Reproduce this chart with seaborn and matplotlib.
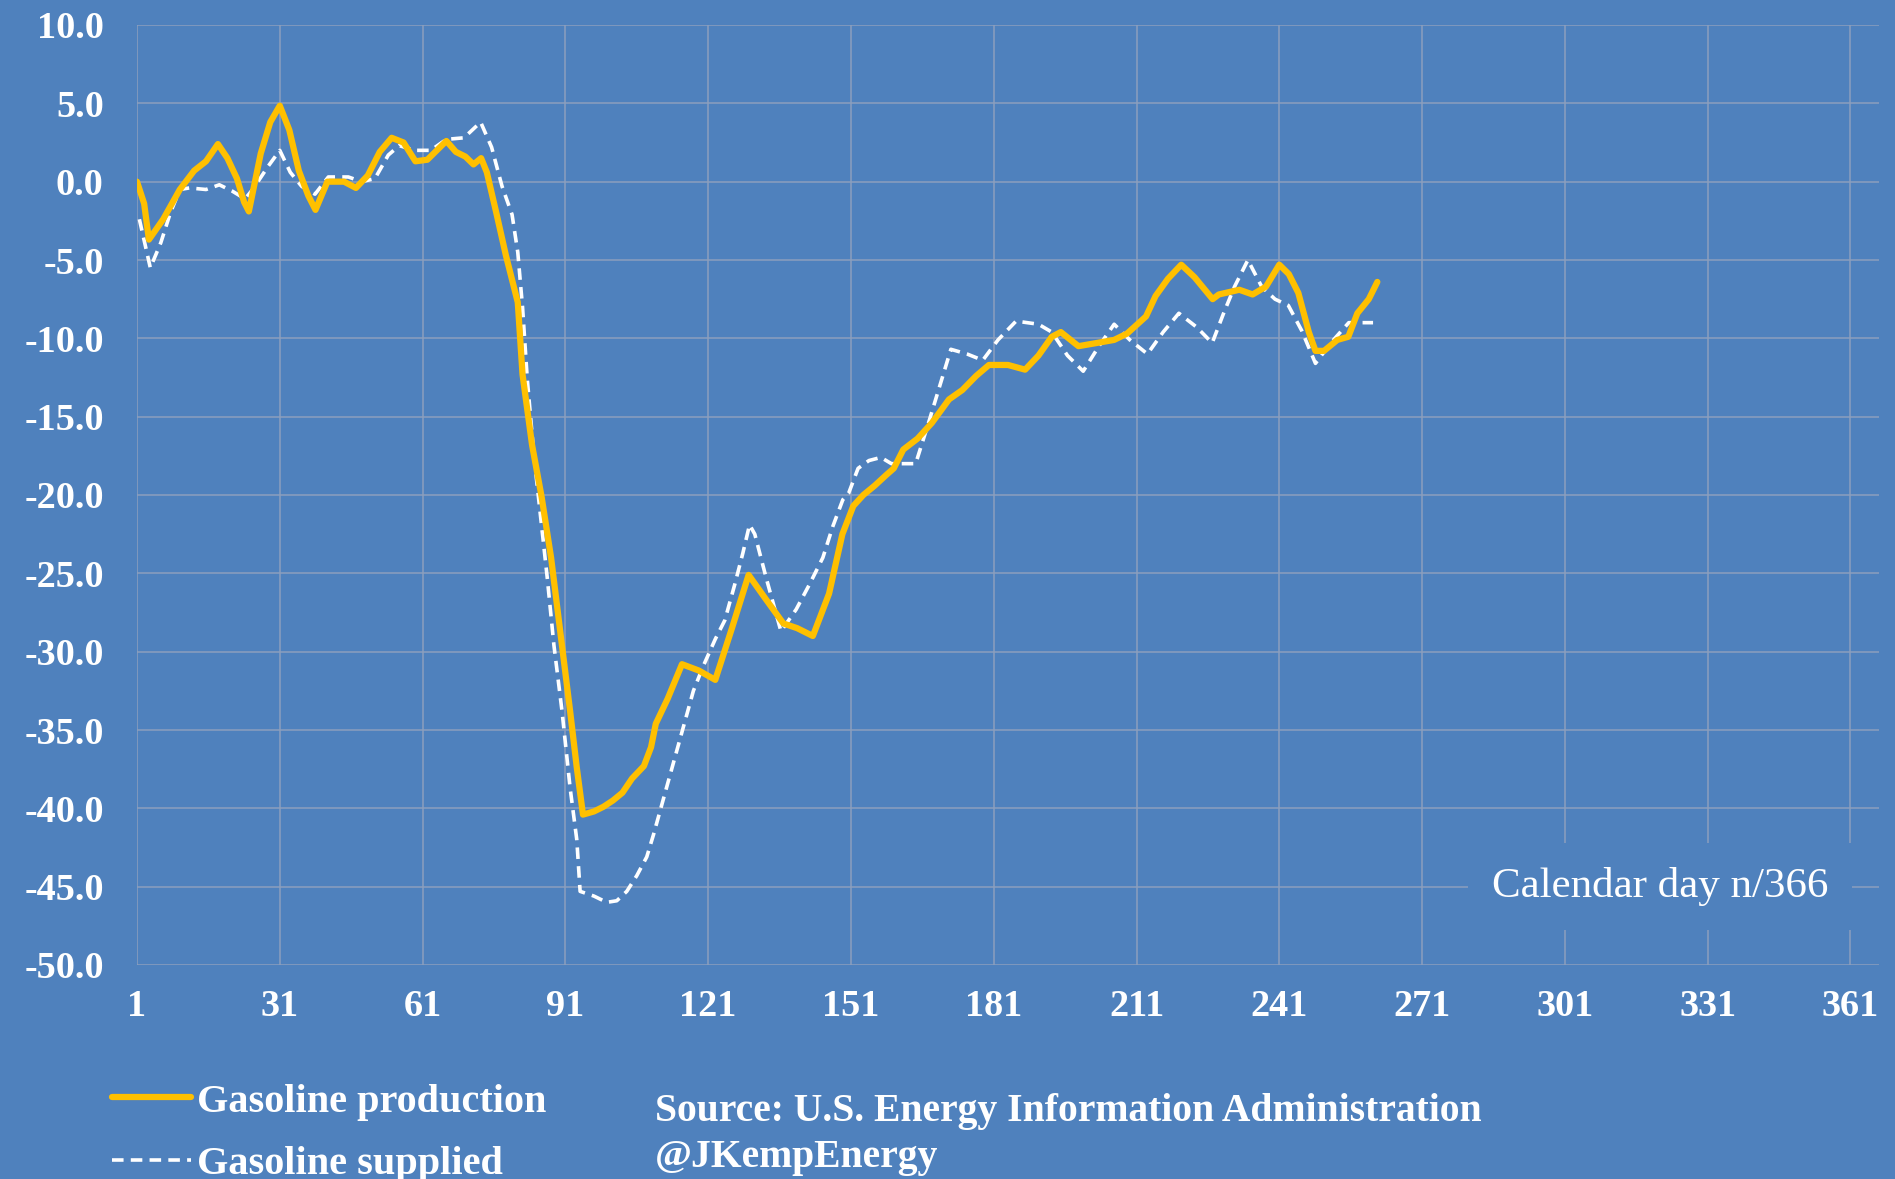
import numpy as np
import pandas as pd
import matplotlib
matplotlib.use("Agg")
import matplotlib.pyplot as plt
import seaborn as sns

# ---- data ----
prod_days = [1, 2.5, 3.5, 6.5, 10, 13, 15.5, 18, 20, 22, 23.5, 24.5, 27, 29, 31, 33, 35, 37,
             38.5, 41, 44.5, 47, 49.5, 52, 54.5, 57, 59.5, 62, 65, 66, 68, 70, 71.7, 73.3,
             74.5, 76.5, 78.5, 81, 82, 84, 86, 88, 90, 92, 93.4, 94.7, 97, 99, 101, 103,
             105, 107.5, 109, 110, 112.5, 115.5, 119, 122.5, 126, 129.5, 133, 136.8, 139.7,
             143, 146.4, 149.2, 151.5, 153.6, 156, 158.5, 160, 162, 165, 168, 171.6, 174.4,
             177.3, 180, 184, 187.6, 190.4, 193.2, 195.1, 198.8, 202.6, 206.3, 209, 213,
             215, 217.6, 220.4, 223.2, 227, 228.3, 232.6, 235.4, 238.2, 241, 243, 245,
             247.2, 248.6, 250.4, 253.2, 255.5, 257.4, 259.8, 261.6]
prod_vals = [0.0, -1.4, -3.7, -2.4, -0.5, 0.7, 1.3, 2.4, 1.5, 0.2, -1.3, -1.9, 1.8, 3.8, 4.85,
             3.3, 0.7, -0.9, -1.8, 0.0, 0.0, -0.4, 0.4, 1.9, 2.8, 2.5, 1.3, 1.4, 2.3, 2.6, 1.9,
             1.6, 1.1, 1.5, 0.6, -2.0, -4.7, -7.7, -12.3, -16.8, -20.1, -24.0, -28.9, -33.8,
             -37.4, -40.4, -40.2, -39.9, -39.5, -39.0, -38.1, -37.3, -36.1, -34.6, -33.0,
             -30.8, -31.2, -31.8, -28.5, -25.1, -26.6, -28.2, -28.5, -29.0, -26.3, -22.5,
             -20.7, -20.0, -19.4, -18.7, -18.3, -17.1, -16.4, -15.4, -13.9, -13.3, -12.4,
             -11.7, -11.7, -12.0, -11.1, -9.9, -9.6, -10.5, -10.3, -10.1, -9.7, -8.6, -7.3,
             -6.2, -5.3, -6.1, -7.5, -7.2, -6.9, -7.2, -6.7, -5.3, -5.9, -7.1, -9.6, -10.8,
             -10.8, -10.1, -9.9, -8.4, -7.5, -6.4]

supp_days = [1.5, 3.8, 6, 8, 10, 12, 15.5, 18.3, 21, 23.7, 25.3, 28.6, 31, 33.2, 35.6, 38.4,
             41.2, 45.4, 48.2, 51, 53.8, 56.1, 59.4, 62.7, 66, 69.7, 73.2, 75.5, 77.7, 79.8,
             81, 82, 83, 84.4, 85.8, 87.2, 88.6, 90.3, 92, 93.4, 94.1, 97, 99.7, 101.8, 103.9,
             106, 108.1, 109.5, 111.6, 113.7, 115.8, 117.9, 120, 122.5, 124.5, 126.6, 128.3,
             129.7, 130.8, 133.2, 136.3, 139.5, 142.3, 145.1, 147.2, 149.3, 150.5, 152.5,
             154.8, 157.3, 159.5, 164.6, 167.4, 169.7, 172, 175.4, 178.7, 181.9, 185.7,
             190.4, 193.2, 196.5, 199.8, 203.1, 206.3, 209.6, 213.3, 216.6, 219.9, 223.7,
             226.9, 229.3, 231.6, 234.4, 237.3, 240.1, 242.9, 245.7, 248.6, 251.8, 255.6,
             260.7]
supp_vals = [-2.4, -5.5, -3.9, -2.0, -0.5, -0.4, -0.5, -0.2, -0.6, -1.1, -0.5, 1.0, 2.0, 0.6,
             -0.3, -0.8, 0.3, 0.3, 0.0, 0.2, 1.7, 2.3, 2.0, 2.0, 2.7, 2.8, 3.8, 2.2, -0.3,
             -2.1, -4.5, -8.0, -12.6, -17.5, -21.4, -25.3, -29.6, -33.8, -38.7, -42.0, -45.3,
             -45.6, -46.0, -45.9, -45.3, -44.3, -43.1, -41.7, -39.4, -37.1, -34.8, -32.5,
             -30.9, -29.2, -28.0, -25.7, -23.7, -21.9, -22.5, -25.3, -28.7, -27.3, -25.7,
             -24.0, -22.0, -20.3, -19.9, -18.3, -17.8, -17.6, -18.0, -18.0, -15.3, -13.0,
             -10.7, -11.0, -11.4, -10.1, -8.9, -9.1, -9.6, -11.1, -12.1, -10.5, -9.1, -10.1,
             -11.0, -9.6, -8.4, -9.3, -10.3, -8.4, -6.7, -5.0, -6.7, -7.5, -7.9, -9.5, -11.6,
             -10.3, -9.0, -9.0]

x_ticks = [1, 31, 61, 91, 121, 151, 181, 211, 241, 271, 301, 331, 361]
y_ticks = [-50, -45, -40, -35, -30, -25, -20, -15, -10, -5, 0, 5, 10]
series_labels = ["Gasoline production", "Gasoline supplied"]
source_lines = ["Source: U.S. Energy Information Administration", "@JKempEnergy"]
axis_note = "Calendar day n/366"

# ---- style ----
BG = "#4F81BD"
GRID = "#8C9FBD"
sns.set_theme(style="whitegrid", rc={
    "axes.facecolor": BG, "figure.facecolor": BG, "grid.color": GRID,
    "grid.linewidth": 1.1, "axes.edgecolor": BG,
})
plt.rcParams["font.family"] = ["Liberation Serif", "DejaVu Serif"]

fig = plt.figure(figsize=(18.95, 11.79), dpi=100, facecolor=BG)
ax = fig.add_axes([137 / 1895, 1 - 965 / 1179, (1879 - 137) / 1895, (965 - 25) / 1179])
ax.set_facecolor(BG)

prod = pd.DataFrame({"day": prod_days, "value": prod_vals})
supp = pd.DataFrame({"day": supp_days, "value": supp_vals})

sns.lineplot(data=prod, x="day", y="value", ax=ax, sort=False, color="#FFC000",
             linewidth=4.5, label=series_labels[0], zorder=4)
sns.lineplot(data=supp, x="day", y="value", ax=ax, sort=False, color="white",
             linewidth=2.6, dashes=False, label=series_labels[1], zorder=3)
ax.lines[1].set_dashes([3.2, 2.0])

ax.set_xlim(1, 367)
ax.set_ylim(-50, 10)
ax.set_xticks(x_ticks)
ax.set_yticks(y_ticks)
ax.set_yticklabels([f"{v:.1f}" for v in y_ticks])
ax.set_xlabel("")
ax.set_ylabel("")
for s in ax.spines.values():
    s.set_visible(False)
ax.grid(True, color=GRID, linewidth=1.1)
ax.tick_params(axis="both", length=0, colors="white", labelsize=27.5)
ax.tick_params(axis="y", pad=24)
ax.tick_params(axis="x", pad=17)
for lab in ax.get_xticklabels() + ax.get_yticklabels():
    lab.set_fontweight("bold")
    lab.set_color("white")

ax.text(321, -45, axis_note, ha="center", va="center", fontsize=31, color="white",
        zorder=5, bbox=dict(facecolor=BG, edgecolor="none", boxstyle="square,pad=0.55"))

leg = ax.legend(loc="center left", bbox_to_anchor=(112 / 1895, 1 - 1133 / 1179),
                bbox_transform=fig.transFigure, frameon=False, borderpad=0,
                borderaxespad=0, handlelength=1.95, handletextpad=0.15,
                labelspacing=0.62, prop={"weight": "bold", "size": 29})
for t in leg.get_texts():
    t.set_color("white")

fig.text(655 / 1895, 1 - 1111 / 1179, source_lines[0], ha="left", va="center",
         fontsize=28.5, fontweight="bold", color="white")
fig.text(655 / 1895, 1 - 1157 / 1179, source_lines[1], ha="left", va="center",
         fontsize=28.5, fontweight="bold", color="white")

fig.savefig("out.png", dpi=100, facecolor=BG)
